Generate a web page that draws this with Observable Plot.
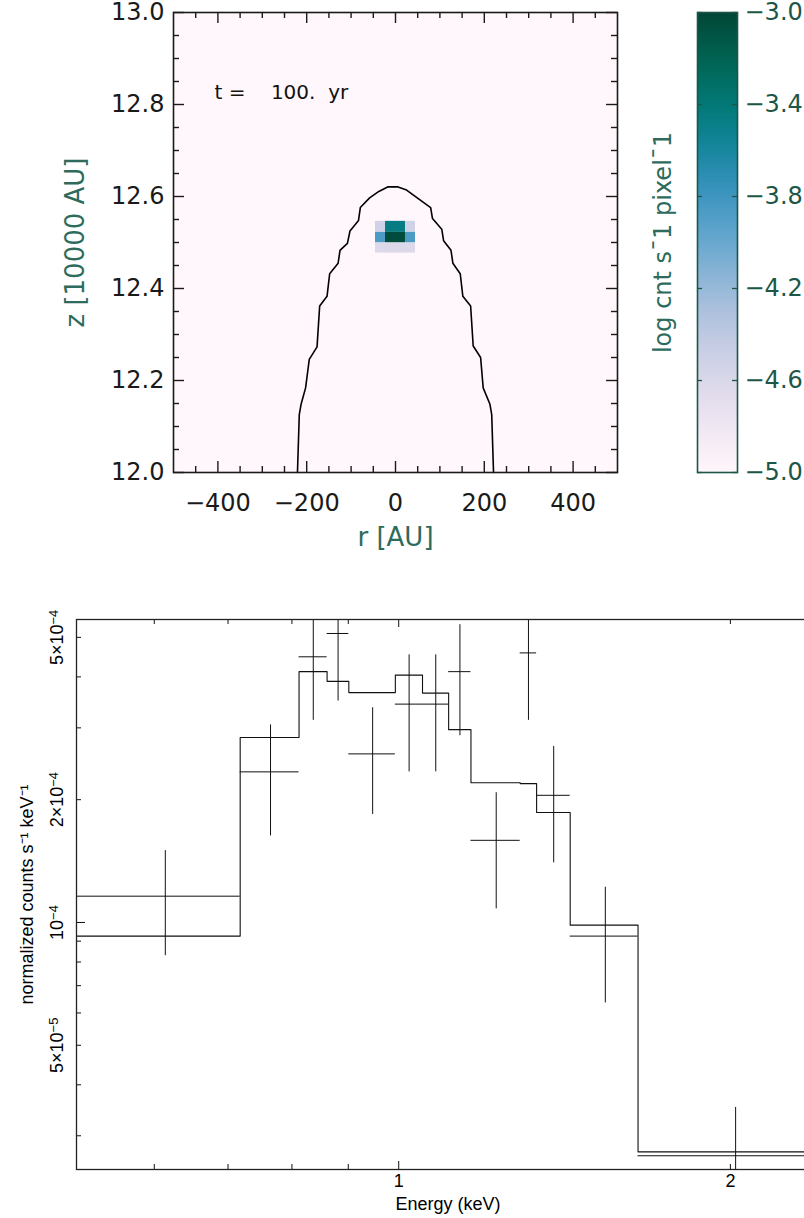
<!DOCTYPE html>
<html><head><meta charset="utf-8">
<script src="https://cdn.jsdelivr.net/npm/d3@7"></script>
<script src="https://cdn.jsdelivr.net/npm/@observablehq/plot@0.6"></script>
<style>
html,body{margin:0;padding:0;background:#fff;overflow:hidden}
#wrap{position:relative;width:804px;height:1218px;overflow:hidden;background:#fff}
#wrap svg{position:absolute;max-width:none !important;margin:0}
</style></head><body><div id="wrap"></div>
<script>
// ===== Top panel: image =====
const rMajor = [-400, -200, 0, 200, 400];
const rMinor = [-450, -350, -300, -250, -150, -100, -50, 50, 100, 150, 250, 300, 350, 450];
const zMajor = [12.0, 12.2, 12.4, 12.6, 12.8, 13.0];
const zMinor = [12.05,12.1,12.15,12.25,12.3,12.35,12.45,12.5,12.55,12.65,12.7,12.75,12.85,12.9,12.95];
const cellEdgesR = [-45, -22.5, 0, 22.5, 45];
const cellEdgesZ = [12.546, 12.522, 12.499, 12.477];   // top to bottom
const cellRowTop = [-4.52, -3.46, -3.46, -4.52];
const cellRowMid = [-3.86, -3.04, -3.04, -3.86];
const cellRowBot = [-4.62, -4.60, -4.60, -4.62];
const contourR = [-220.8,-216.7,-212.5,-202.5,-194.2,-176.7,-170.8,-154.2,-148.3,-129.2,-125,-108.3,-102.5,-83.3,-79.2,-58.3,-37.5,-16.7,4.2,25,45.8,79.2,83.3,104.2,108.3,125,129.2,145.8,151.7,169.2,175,191.7,197.5,212.5,216.7,220.8];
const contourZ = [12.0,12.126,12.149,12.184,12.246,12.273,12.362,12.383,12.432,12.455,12.483,12.498,12.525,12.548,12.576,12.597,12.611,12.621,12.621,12.614,12.599,12.576,12.552,12.529,12.504,12.483,12.455,12.432,12.383,12.362,12.275,12.250,12.184,12.149,12.126,12.0];
const timeLabel = "t\u00a0=\u00a0\u00a0\u00a0\u00a0100.\u00a0\u00a0yr";
const cbTicks = [-5.0, -4.6, -4.2, -3.8, -3.4, -3.0];
const cbLabel = "log cnt s\u00AF1 pixel\u00AF1";

// ===== Bottom panel: spectrum =====
const binLo = [0.51, 0.718, 0.812, 0.861, 0.901, 0.993, 1.051, 1.110, 1.163, 1.289, 1.334, 1.431, 1.649];
const binHi = [0.718, 0.812, 0.861, 0.901, 0.993, 1.051, 1.110, 1.163, 1.289, 1.334, 1.431, 1.649, 2.395];
const counts = [1.16e-4, 2.34e-4, 4.48e-4, 5.11e-4, 2.59e-4, 3.43e-4, 3.43e-4, 4.12e-4, 1.59e-4, 4.58e-4, 2.05e-4, 9.26e-5, 2.68e-5];
const errLow = [8.29e-5, 1.63e-4, 3.13e-4, 3.49e-4, 1.84e-4, 2.34e-4, 2.34e-4, 2.87e-4, 1.08e-4, 3.13e-4, 1.40e-4, 6.35e-5, 1.8e-5];
const errHigh = [1.50e-4, 3.05e-4, 6.0e-4, 6.8e-4, 3.36e-4, 4.53e-4, 4.53e-4, 5.37e-4, 2.08e-4, 6.1e-4, 2.70e-4, 1.22e-4, 3.52e-5];
const model = [9.26e-5, 2.84e-4, 4.12e-4, 3.90e-4, 3.66e-4, 4.04e-4, 3.65e-4, 2.97e-4, 2.20e-4, 2.19e-4, 1.86e-4, 9.85e-5, 2.74e-5];
const eTicksMinor = [0.6, 0.7, 0.8, 0.9, 2];
const eTicksMajor = [1];
const eLabels = [1, 2];
const yTicksMinor = [3e-5,4e-5,5e-5,6e-5,7e-5,8e-5,9e-5,2e-4,3e-4,4e-4,5e-4];
const yTicksMajor = [1e-4];
const yLabelVals = [5e-4, 2e-4, 1e-4, 5e-5];
const yLabelBase = ["5\u00D710", "2\u00D710", "10", "5\u00D710"];
const yLabelExp = ["\u22124", "\u22124", "\u22124", "\u22125"];
const xTitle = "Energy (keV)";
const yTitle = "normalized counts s\u207B\u00B9 keV\u207B\u00B9";

const wrap = document.getElementById("wrap");
function place(svg, left, top){ svg.style.left = left+"px"; svg.style.top = top+"px"; wrap.appendChild(svg); }

// ---- top plot ----
const cells = [];
[cellRowTop, cellRowMid, cellRowBot].forEach((row, j) => {
  row.forEach((v, i) => cells.push({x1: cellEdgesR[i], x2: cellEdgesR[i+1], y1: cellEdgesZ[j+1], y2: cellEdgesZ[j], v}));
});
const contour = contourR.map((r, i) => ({r, z: contourZ[i]}));
const colorScale = {type: "linear", scheme: "PuBuGn", domain: [-5, -3], clamp: true};

const W1 = 680, H1 = 560, ML1 = 173, MR1 = 63, MT1 = 12, MB1 = 88;
const FW1 = W1 - ML1 - MR1, FH1 = H1 - MT1 - MB1;
const tickCol = "#1a1a1a", teal = "#2d6b5c";
const topPlot = Plot.plot({
  width: W1, height: H1, marginLeft: ML1, marginRight: MR1, marginTop: MT1, marginBottom: MB1,
  x: {domain: [-500, 500], axis: null},
  y: {domain: [12, 13], axis: null},
  color: colorScale,
  style: {fontFamily: "DejaVu Sans", fontSize: "24px", background: "transparent", color: tickCol, overflow: "visible"},
  marks: [
    Plot.frame({fill: d3.interpolatePuBuGn(0)}),
    Plot.rect(cells, {x1: "x1", x2: "x2", y1: "y1", y2: "y2", fill: "v"}),
    Plot.line(contour, {x: "r", y: "z", stroke: "#000", strokeWidth: 1.6}),
    Plot.ruleX(rMajor, {x: d => d, stroke: tickCol, strokeWidth: 1.4, insetTop: FH1 - 11}),
    Plot.ruleX(rMajor, {x: d => d, stroke: tickCol, strokeWidth: 1.4, insetBottom: FH1 - 11}),
    Plot.ruleX(rMinor, {x: d => d, stroke: tickCol, strokeWidth: 1.4, insetTop: FH1 - 6}),
    Plot.ruleX(rMinor, {x: d => d, stroke: tickCol, strokeWidth: 1.4, insetBottom: FH1 - 6}),
    Plot.ruleY(zMajor, {y: d => d, stroke: tickCol, strokeWidth: 1.4, insetRight: FW1 - 11}),
    Plot.ruleY(zMajor, {y: d => d, stroke: tickCol, strokeWidth: 1.4, insetLeft: FW1 - 11}),
    Plot.ruleY(zMinor, {y: d => d, stroke: tickCol, strokeWidth: 1.4, insetRight: FW1 - 6}),
    Plot.ruleY(zMinor, {y: d => d, stroke: tickCol, strokeWidth: 1.4, insetLeft: FW1 - 6}),
    Plot.frame({stroke: tickCol, strokeWidth: 1.6}),
    Plot.axisX({ticks: rMajor, tickSize: 0, tickPadding: 21, fill: tickCol, label: null}),
    Plot.axisY({ticks: zMajor, tickSize: 0, tickPadding: 9, fill: tickCol, label: null, tickFormat: d => d.toFixed(1)}),
    Plot.text([timeLabel], {frameAnchor: "top-left", dx: 41, dy: 80, textAnchor: "start", lineAnchor: "middle", fontSize: 20, fill: "#111"}),
    Plot.text(["r [AU]"], {frameAnchor: "bottom", dy: 65, textAnchor: "middle", lineAnchor: "middle", fontSize: 26, fill: teal}),
    Plot.text(["z [10000 AU]"], {frameAnchor: "left", dx: -98, rotate: -90, textAnchor: "middle", lineAnchor: "middle", fontSize: 26, fill: teal})
  ]
});
place(topPlot, 0, 0);

// ---- colorbar ----
const W2 = 144, H2 = 560, ML2 = 37, MR2 = 67;
const FW2 = W2 - ML2 - MR2;
const cbCol = "#1d5647";
const cbPlot = Plot.plot({
  width: W2, height: H2, marginLeft: ML2, marginRight: MR2, marginTop: MT1, marginBottom: MB1,
  x: {domain: [0, 1], axis: null},
  y: {domain: [-5, -3], axis: null},
  color: colorScale,
  style: {fontFamily: "DejaVu Sans", fontSize: "24px", background: "transparent", color: cbCol, overflow: "visible"},
  marks: [
    Plot.raster({fill: (x, y) => y, x1: 0, x2: 1, y1: -5, y2: -3, width: 2, height: 256, imageRendering: "auto"}),
    Plot.ruleY(cbTicks, {y: d => d, stroke: cbCol, strokeWidth: 1.3, insetLeft: FW2 - 5}),
    Plot.ruleY(cbTicks, {y: d => d, stroke: cbCol, strokeWidth: 1.3, insetRight: FW2 - 5}),
    Plot.frame({stroke: cbCol, strokeWidth: 1.6}),
    Plot.axisY({anchor: "right", ticks: cbTicks, tickSize: 0, tickPadding: 7, fill: cbCol, label: null, tickFormat: d3.format(".1f")}),
    Plot.text([cbLabel], {frameAnchor: "left", dx: -34, rotate: -90, textAnchor: "middle", lineAnchor: "middle", fontSize: 24, fill: teal})
  ]
});
place(cbPlot, 660, 0);

// ---- spectrum ----
const bins = binLo.map((lo, i) => ({lo, hi: binHi[i], mid: (lo + binHi[i]) / 2, c: counts[i], el: errLow[i], eh: errHigh[i], m: model[i]}));
const modelPts = bins.flatMap(b => [{e: b.lo, m: b.m}, {e: b.hi, m: b.m}]);
const yLabelFull = yLabelBase.map((b, i) => b + yLabelExp[i]);
const W3 = 840, H3 = 638, ML3 = 76, MR3 = 13, MT3 = 39, MB3 = 49;
const FW3 = W3 - ML3 - MR3, FH3 = H3 - MT3 - MB3;
const k = "#111";
const specPlot = Plot.plot({
  width: W3, height: H3, marginLeft: ML3, marginRight: MR3, marginTop: MT3, marginBottom: MB3,
  x: {type: "log", domain: [0.51, 2.45], axis: null},
  y: {type: "log", domain: [2.48e-5, 5.53e-4], axis: null},
  style: {fontFamily: "Liberation Sans, Arial, sans-serif", fontSize: "18px", background: "transparent", color: "#000"},
  marks: [
    Plot.line(modelPts, {x: "e", y: "m", stroke: k, strokeWidth: 1.1, clip: true}),
    Plot.ruleY(bins, {y: "c", x1: "lo", x2: "hi", stroke: k, strokeWidth: 1, clip: true}),
    Plot.ruleX(bins, {x: "mid", y1: "el", y2: "eh", stroke: k, strokeWidth: 1, clip: true}),
    Plot.ruleX(eTicksMajor, {x: d => d, stroke: k, insetTop: FH3 - 8}),
    Plot.ruleX(eTicksMajor, {x: d => d, stroke: k, insetBottom: FH3 - 8}),
    Plot.ruleX(eTicksMinor, {x: d => d, stroke: k, insetTop: FH3 - 5}),
    Plot.ruleX(eTicksMinor, {x: d => d, stroke: k, insetBottom: FH3 - 5}),
    Plot.ruleY(yTicksMajor, {y: d => d, stroke: k, insetRight: FW3 - 9}),
    Plot.ruleY(yTicksMajor, {y: d => d, stroke: k, insetLeft: FW3 - 9}),
    Plot.ruleY(yTicksMinor, {y: d => d, stroke: k, insetRight: FW3 - 5}),
    Plot.ruleY(yTicksMinor, {y: d => d, stroke: k, insetLeft: FW3 - 5}),
    Plot.frame({stroke: "#222", strokeWidth: 1.3}),
    Plot.text(yLabelVals, {y: d => d, text: (d, i) => yLabelFull[i], frameAnchor: "left", dx: -19, rotate: -90, textAnchor: "middle", lineAnchor: "middle", fill: "#000"}),
    Plot.text(eLabels, {x: d => d, text: d => String(d), frameAnchor: "bottom", dy: 12, textAnchor: "middle", lineAnchor: "middle", fill: "#000"}),
    Plot.text([xTitle], {frameAnchor: "bottom", dx: -4, dy: 35, textAnchor: "middle", lineAnchor: "middle", fill: "#000"}),
    Plot.text([yTitle], {frameAnchor: "left", dx: -49, rotate: -90, textAnchor: "middle", lineAnchor: "middle", fill: "#000"})
  ]
});
// render exponents as raised tspans
specPlot.querySelectorAll("text").forEach(t => {
  const i = yLabelFull.indexOf(t.textContent);
  if (i < 0) return;
  t.textContent = "";
  const ns = "http://www.w3.org/2000/svg";
  const b = document.createElementNS(ns, "tspan"); b.textContent = yLabelBase[i]; t.appendChild(b);
  const e = document.createElementNS(ns, "tspan"); e.textContent = yLabelExp[i];
  e.setAttribute("dy", "-0.42em"); e.setAttribute("font-size", "13px"); t.appendChild(e);
});
place(specPlot, 0, 580);
</script></body></html>
